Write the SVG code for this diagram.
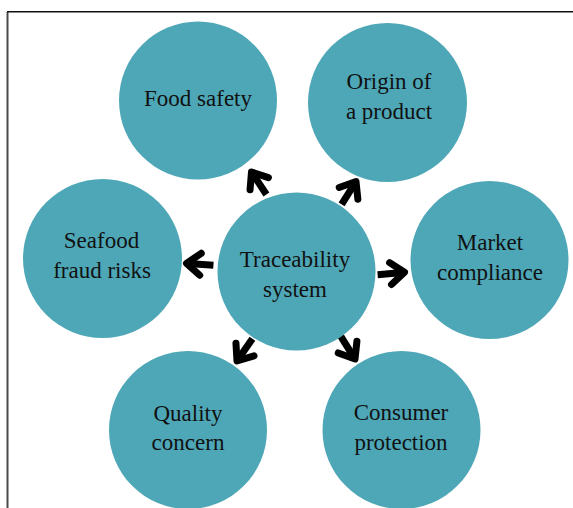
<svg xmlns="http://www.w3.org/2000/svg" width="573" height="508" viewBox="0 0 573 508">
  <style>
    .node { fill: #4ea7b7; }
    .label { font-family: "Liberation Serif", "Times New Roman", serif; font-size: 23px; fill: #111; text-anchor: middle; }
    .shaft { fill: none; stroke: #000; stroke-width: 7; stroke-linecap: butt; }
    .head { fill: none; stroke: #000; stroke-width: 7; stroke-linecap: round; stroke-linejoin: round; }
  </style>
  <defs>
    <!-- thick chevron arrow pointing along +x, tip at the origin -->
    <g id="arrow">
      <path class="shaft" d="M-27,0 H-2"/>
      <path class="head" d="M-14,-11 L0,0 L-14,11"/>
    </g>
  </defs>

  <rect width="573" height="508" fill="#fff"/>

  <!-- frame -->
  <path d="M7.5,508 V12" fill="none" stroke="#4a4a4a" stroke-width="2"/>
  <path d="M7,11.8 H573" fill="none" stroke="#111" stroke-width="1.6"/>

  <!-- connectors -->
  <g id="connectors">
    <use href="#arrow" transform="translate(251.5,172) rotate(-123.5)"/>
    <use href="#arrow" transform="translate(356,181.5) rotate(-57.8)"/>
    <use href="#arrow" transform="translate(404.5,272.3) rotate(-5)"/>
    <use href="#arrow" transform="translate(186.5,263.3) rotate(184)"/>
    <use href="#arrow" transform="translate(237,361) rotate(124.8)"/>
    <use href="#arrow" transform="translate(355,359) rotate(58)"/>
  </g>

  <g id="traceability-system">
    <circle class="node" cx="296.5" cy="271.5" r="79"/>
    <text class="label" x="295" y="267">Traceability</text>
    <text class="label" x="295" y="297">system</text>
  </g>

  <g id="food-safety">
    <circle class="node" cx="198" cy="100.5" r="79"/>
    <text class="label" x="198" y="106">Food safety</text>
  </g>

  <g id="origin-of-a-product">
    <circle class="node" cx="387.5" cy="102.5" r="79.5"/>
    <text class="label" x="389" y="89">Origin of</text>
    <text class="label" x="389" y="118.5">a product</text>
  </g>

  <g id="market-compliance">
    <circle class="node" cx="489.5" cy="260" r="79"/>
    <text class="label" x="490" y="250">Market</text>
    <text class="label" x="490" y="280">compliance</text>
  </g>

  <g id="seafood-fraud-risks">
    <circle class="node" cx="102.5" cy="258.5" r="79.5"/>
    <text class="label" x="101.5" y="248">Seafood</text>
    <text class="label" x="102" y="278">fraud risks</text>
  </g>

  <g id="quality-concern">
    <circle class="node" cx="188" cy="430" r="79"/>
    <text class="label" x="188" y="420.5">Quality</text>
    <text class="label" x="188" y="450">concern</text>
  </g>

  <g id="consumer-protection">
    <circle class="node" cx="401.5" cy="430" r="79"/>
    <text class="label" x="401" y="419.5">Consumer</text>
    <text class="label" x="401" y="450">protection</text>
  </g>
</svg>
